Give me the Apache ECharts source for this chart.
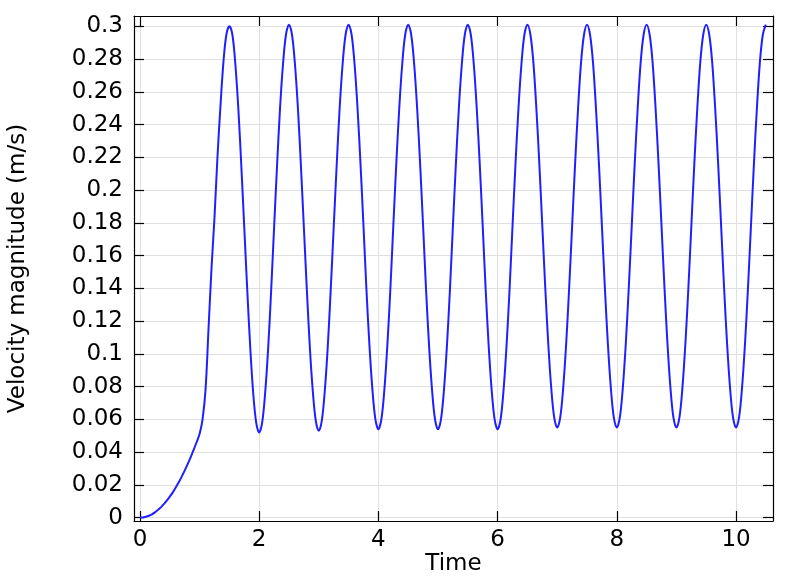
<!DOCTYPE html>
<html>
<head>
<meta charset="utf-8">
<script src="https://cdn.jsdelivr.net/npm/echarts@6/dist/echarts.min.js"></script>
<style>
html,body{margin:0;padding:0;background:#fff;}
#chart{width:789px;height:577px;}
</style>
</head>
<body>
<div id="chart"></div>
<script>
// Sampling of the time axis (s)
const timeStart = 0;
const timeStep = 0.05;

// Velocity magnitude (m/s), one array per time span
const v_0_1   = [0, 0.0001, 0.0005, 0.0011, 0.002, 0.0032, 0.0046, 0.0062, 0.0082, 0.0103, 0.0128,
                 0.0154, 0.0184, 0.0215, 0.025, 0.0287, 0.0326, 0.0368, 0.0413, 0.046, 0.051];
const v_1_2   = [0.060, 0.078, 0.115, 0.152, 0.183, 0.220, 0.251, 0.278, 0.295, 0.300,
                 0.295, 0.277, 0.250, 0.215, 0.177, 0.139, 0.104, 0.076, 0.058, 0.052];
const v_2_3   = [0.058, 0.076, 0.103, 0.138, 0.177, 0.215, 0.250, 0.277, 0.295, 0.301,
                 0.295, 0.277, 0.250, 0.215, 0.177, 0.139, 0.104, 0.077, 0.059, 0.053];
const v_3_4   = [0.059, 0.077, 0.104, 0.139, 0.177, 0.215, 0.250, 0.277, 0.295, 0.301,
                 0.295, 0.277, 0.250, 0.216, 0.178, 0.139, 0.105, 0.078, 0.060, 0.054];
const v_4_5   = [0.060, 0.078, 0.105, 0.139, 0.178, 0.216, 0.250, 0.277, 0.295, 0.301,
                 0.295, 0.277, 0.250, 0.216, 0.178, 0.139, 0.105, 0.078, 0.060, 0.054];
const v_5_6   = [0.060, 0.078, 0.105, 0.139, 0.178, 0.216, 0.250, 0.277, 0.295, 0.301,
                 0.295, 0.277, 0.250, 0.216, 0.178, 0.139, 0.105, 0.078, 0.060, 0.054];
const v_6_7   = [0.060, 0.078, 0.105, 0.139, 0.178, 0.216, 0.250, 0.277, 0.295, 0.301,
                 0.295, 0.278, 0.250, 0.216, 0.178, 0.140, 0.106, 0.079, 0.061, 0.055];
const v_7_8   = [0.061, 0.079, 0.106, 0.140, 0.178, 0.216, 0.250, 0.278, 0.295, 0.301,
                 0.295, 0.278, 0.250, 0.216, 0.178, 0.140, 0.106, 0.079, 0.061, 0.055];
const v_8_9   = [0.061, 0.079, 0.106, 0.140, 0.178, 0.216, 0.250, 0.278, 0.295, 0.301,
                 0.295, 0.278, 0.250, 0.216, 0.178, 0.140, 0.106, 0.079, 0.061, 0.055];
const v_9_10  = [0.061, 0.079, 0.106, 0.140, 0.178, 0.216, 0.250, 0.278, 0.295, 0.301,
                 0.295, 0.278, 0.250, 0.216, 0.178, 0.140, 0.106, 0.079, 0.061, 0.055];
const v_10_end = [0.061, 0.079, 0.106, 0.140, 0.178, 0.216, 0.250, 0.278, 0.295, 0.301];

// Axis ticks
const xTicks = [0, 2, 4, 6, 8, 10];
const yTicks = [0, 0.02, 0.04, 0.06, 0.08, 0.1, 0.12, 0.14, 0.16, 0.18, 0.2, 0.22, 0.24, 0.26, 0.28, 0.3];
const xTitle = 'Time';
const yTitle = 'Velocity magnitude (m/s)';

const velocity = [].concat(v_0_1, v_1_2, v_2_3, v_3_4, v_4_5, v_5_6, v_6_7, v_7_8, v_8_9, v_9_10, v_10_end);
const seriesData = velocity.map((v, i) => [+(timeStart + i * timeStep).toFixed(4), v]);

const FONT = 'DejaVu Sans';
const FS = 23;
const xInterval = xTicks[1] - xTicks[0];
const yInterval = +(yTicks[1] - yTicks[0]).toFixed(4);
// visible data window (frame)
const xMin = -0.1, xMax = 10.62;
const yMin = -0.0021, yMax = 0.3063;

// frame grid in pixels
const G = {left: 134, top: 16, width: 639, height: 505};
// sub-grids whose edges fall on the first/last tick, so ticks start at a multiple of the interval
const xT0 = xTicks[0], xT1 = xTicks[xTicks.length - 1];
const yT0 = yTicks[0], yT1 = yTicks[yTicks.length - 1];
const gx = {
  left: G.left + G.width * (xT0 - xMin) / (xMax - xMin),
  width: G.width * (xT1 - xT0) / (xMax - xMin),
  top: G.top, height: G.height
};
const gy = {
  left: G.left, width: G.width,
  top: G.top + G.height * (yMax - yT1) / (yMax - yMin),
  height: G.height * (yT1 - yT0) / (yMax - yMin)
};

const chart = echarts.init(document.getElementById('chart'), null, {renderer: 'canvas'});
const axisLineStyle = {color: '#000', width: 1.2};
const tickStyle = {show: true, inside: true, length: 10, lineStyle: {color: '#000', width: 1.2}};
const gridColor = '#e0e0e0';
const labelStyle = {color: '#000', fontFamily: FONT, fontSize: FS};
const gridBase = {containLabel: false, outerBoundsMode: 'none'};

chart.setOption({
  animation: false,
  backgroundColor: '#ffffff',
  grid: [
    Object.assign({left: G.left, top: G.top, width: G.width, height: G.height}, gridBase),   // 0: frame + data
    Object.assign({left: gx.left, top: gx.top, width: gx.width, height: gx.height}, gridBase), // 1: x ticks
    Object.assign({left: gy.left, top: gy.top, width: gy.width, height: gy.height}, gridBase)  // 2: y ticks
  ],
  xAxis: [
    { // 0 frame bottom
      gridIndex: 0, type: 'value', position: 'bottom', min: xMin, max: xMax,
      name: xTitle, nameLocation: 'middle', nameGap: 32,
      nameTextStyle: labelStyle,
      axisLine: {show: true, onZero: false, lineStyle: axisLineStyle},
      axisTick: {show: false}, axisLabel: {show: false}, splitLine: {show: false}
    },
    { // 1 frame top
      gridIndex: 0, type: 'value', position: 'top', min: xMin, max: xMax,
      axisLine: {show: true, onZero: false, lineStyle: axisLineStyle},
      axisTick: {show: false}, axisLabel: {show: false}, splitLine: {show: false}
    },
    { // 2 ticks bottom
      gridIndex: 1, type: 'value', position: 'bottom', min: xT0, max: xT1, interval: xInterval,
      axisLine: {show: false},
      axisTick: tickStyle,
      axisLabel: Object.assign({show: true, margin: 8}, labelStyle),
      splitLine: {show: true, lineStyle: {color: gridColor, width: 1}}
    },
    { // 3 ticks top
      gridIndex: 1, type: 'value', position: 'top', min: xT0, max: xT1, interval: xInterval,
      axisLine: {show: false},
      axisTick: tickStyle, axisLabel: {show: false}, splitLine: {show: false}
    },
    { // 4 dummy x for y-tick grid
      gridIndex: 2, type: 'value', min: 0, max: 1, show: false
    }
  ],
  yAxis: [
    { // 0 frame left
      gridIndex: 0, type: 'value', position: 'left', min: yMin, max: yMax,
      name: yTitle, nameLocation: 'middle', nameGap: 104, nameRotate: 90,
      nameTextStyle: labelStyle,
      axisLine: {show: true, onZero: false, lineStyle: axisLineStyle},
      axisTick: {show: false}, axisLabel: {show: false}, splitLine: {show: false}
    },
    { // 1 frame right
      gridIndex: 0, type: 'value', position: 'right', min: yMin, max: yMax,
      axisLine: {show: true, onZero: false, lineStyle: axisLineStyle},
      axisTick: {show: false}, axisLabel: {show: false}, splitLine: {show: false}
    },
    { // 2 dummy y for x-tick grid
      gridIndex: 1, type: 'value', min: 0, max: 1, show: false
    },
    { // 3 ticks left
      gridIndex: 2, type: 'value', position: 'left', min: yT0, max: yT1, interval: yInterval,
      axisLine: {show: false},
      axisTick: tickStyle,
      axisLabel: Object.assign({show: true, margin: 11,
        formatter: v => String(+v.toFixed(2))}, labelStyle),
      splitLine: {show: true, lineStyle: {color: gridColor, width: 1}}
    },
    { // 4 ticks right
      gridIndex: 2, type: 'value', position: 'right', min: yT0, max: yT1, interval: yInterval,
      axisLine: {show: false},
      axisTick: tickStyle, axisLabel: {show: false}, splitLine: {show: false}
    }
  ],
  series: [{
    type: 'line',
    xAxisIndex: 0, yAxisIndex: 0,
    data: seriesData,
    showSymbol: false,
    smooth: 0.35,
    z: 5,
    lineStyle: {color: '#2020ff', width: 2},
    itemStyle: {color: '#2020ff'}
  }]
});
</script>
</body>
</html>
